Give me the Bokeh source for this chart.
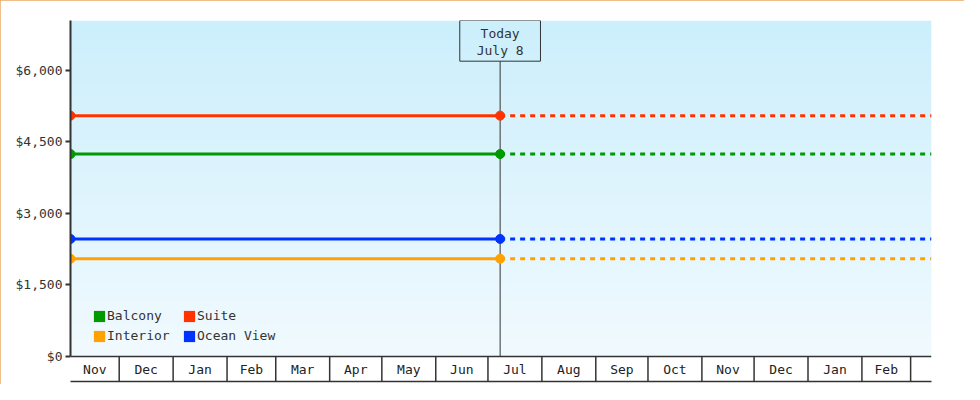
import numpy as np
import pandas as pd
from bokeh.plotting import figure
from bokeh.models import FixedTicker, NumeralTickFormatter, Legend, LegendItem, Range1d
from bokeh.core.properties import value
from bokeh.embed import file_html
from bokeh.resources import INLINE

# ---- data ----
SERIES = ["Balcony", "Suite", "Interior", "Ocean View"]
PRICES = [4245, 5050, 2050, 2465]
COLORS = ["#009900", "#FF3300", "#FFA200", "#0033FF"]
START = "2024-11-03"
TODAY = "2025-07-08"
END = "2026-03-13"
MONTH_STARTS = ["2024-11-01", "2024-12-01", "2025-01-01", "2025-02-01", "2025-03-01",
                "2025-04-01", "2025-05-01", "2025-06-01", "2025-07-01", "2025-08-01",
                "2025-09-01", "2025-10-01", "2025-11-01", "2025-12-01", "2026-01-01",
                "2026-02-01", "2026-03-01"]
MONTH_LABELS = ["Nov", "Dec", "Jan", "Feb", "Mar", "Apr", "May", "Jun",
                "Jul", "Aug", "Sep", "Oct", "Nov", "Dec", "Jan", "Feb"]
Y_TICKS = [0, 1500, 3000, 4500, 6000]
TODAY_LINES = ["Today", "July 8"]

# ---- layout constants ----
Y_TOP = 7045
Y_ROW = -524
FONT = value("DejaVu Sans Mono")
INK = "#333333"


def ms(d):
    return int(pd.Timestamp(d).value // 10**6)


x0, xt, x1 = ms(START), ms(TODAY), ms(END)
DAY = 86400000

p = figure(width=964, height=384, x_axis_type="datetime",
           x_range=Range1d(x0, x1), y_range=Range1d(Y_ROW, Y_TOP),
           output_backend="svg", toolbar_location=None,
           min_border_left=70, min_border_right=33, min_border_top=20, min_border_bottom=3)
p.styles = {"outline": "1px solid #E9A864", "outline-offset": "-1px"}
p.outline_line_color = None
p.xgrid.visible = False
p.ygrid.visible = False
p.background_fill_color = "white"
p.border_fill_color = "white"

# gradient background of the plot area
N = 200
top = np.array([204, 239, 252])
bot = np.array([241, 250, 255])
t = np.linspace(0, 1, N)[:, None]
cols = (bot * (1 - t) + top * t).astype(np.uint32)
img = np.empty((N, 2), dtype=np.uint32)
view = img.view(dtype=np.uint8).reshape((N, 2, 4))
view[:, :, 0] = cols[:, 0:1]
view[:, :, 1] = cols[:, 1:2]
view[:, :, 2] = cols[:, 2:3]
view[:, :, 3] = 255
p.image_rgba(image=[img], x=x0, y=0, dw=x1 - x0, dh=Y_TOP)

# month row
starts_ms = [ms(d) for d in MONTH_STARTS]
mids = [(max(starts_ms[i], x0) + starts_ms[i + 1]) / 2 for i in range(len(MONTH_LABELS))]
seps = [s for s in starts_ms if x0 < s <= x1]
p.segment(x0=seps, y0=[0] * len(seps), x1=seps, y1=[Y_ROW] * len(seps),
          line_color=INK, line_width=1.5)
p.segment(x0=[x0], y0=[0], x1=[x1], y1=[0], line_color=INK, line_width=1.5)
p.text(x=mids, y=[Y_ROW / 2] * len(mids), text=MONTH_LABELS, text_font=FONT,
       text_font_size="13px", text_align="center", text_baseline="middle", text_color="#222222")

# today marker
box_bottom = Y_TOP - 853
p.segment(x0=[xt], y0=[0], x1=[xt], y1=[box_bottom], line_color=INK, line_width=1)
p.quad(left=[xt - 23.2 * DAY], right=[xt + 23.2 * DAY], bottom=[box_bottom], top=[Y_TOP],
       fill_color=None, line_color=INK, line_width=1)
p.text(x=[xt, xt], y=[Y_TOP - 273, Y_TOP - 629], text=TODAY_LINES, text_font=FONT,
       text_font_size="13px", text_align="center", text_baseline="middle", text_color=INK)

# series
legend_r = {}
for name, v, c in zip(SERIES, PRICES, COLORS):
    p.line([x0, xt], [v, v], line_color=c, line_width=3)
    p.line([xt, x1], [v, v], line_color=c, line_width=3, line_dash="5 5")
    p.scatter([x0, xt], [v, v], size=9, marker="circle", fill_color=c, line_color=c)
    legend_r[name] = p.quad(left=[np.nan], right=[np.nan], top=[np.nan], bottom=[np.nan],
                            fill_color=c, line_color=None)

order = ["Balcony", "Interior", "Suite", "Ocean View"]
legend = Legend(items=[LegendItem(label=n, renderers=[legend_r[n]]) for n in order],
                location=(22, 38), ncols=2, padding=0, margin=0, spacing=5,
                glyph_width=14, glyph_height=14, label_standoff=1, label_height=15,
                label_width=70,
                border_line_color=None, background_fill_alpha=0,
                label_text_font="DejaVu Sans Mono", label_text_font_size="13px",
                label_text_color=INK)
p.add_layout(legend)

# axes
ya = p.yaxis[0]
ya.ticker = FixedTicker(ticks=Y_TICKS)
ya.formatter = NumeralTickFormatter(format="$0,0")
ya.bounds = (0, Y_TOP)
ya.axis_line_color = INK
ya.axis_line_width = 2
ya.major_tick_line_color = INK
ya.major_tick_line_width = 2
ya.major_tick_out = 5
ya.major_tick_in = 0
ya.minor_tick_line_color = None
ya.major_label_standoff = 3
ya.major_label_text_font = "DejaVu Sans Mono"
ya.major_label_text_font_size = "13px"
ya.major_label_text_color = INK

xa = p.xaxis[0]
xa.ticker = FixedTicker(ticks=[])
xa.axis_line_color = INK
xa.axis_line_width = 1.5
xa.major_tick_out = 0
xa.major_tick_in = 0
xa.minor_tick_line_color = None
xa.major_label_standoff = 0
xa.major_label_text_font_size = "0px"

open("out.html", "w").write(file_html(p, INLINE))
